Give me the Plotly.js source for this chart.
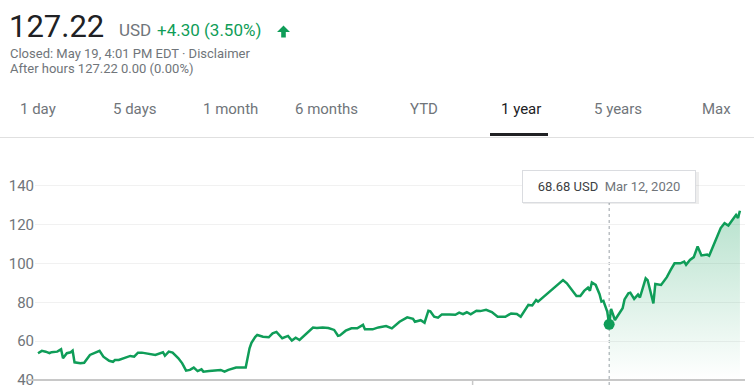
<!DOCTYPE html>
<html><head><meta charset="utf-8">
<script src="https://cdn.plot.ly/plotly-3.0.1.min.js"></script>
<style>html,body{margin:0;padding:0;background:#fff;overflow:hidden}#chart{width:754px;height:385px}</style>
</head><body><div id="chart"></div>
<script>
// ---- data ----
const dates = [
 '2019-05-20','2019-05-22','2019-05-24','2019-05-26','2019-05-27','2019-05-30',
 '2019-06-01','2019-06-02','2019-06-04','2019-06-06','2019-06-07','2019-06-08','2019-06-11','2019-06-13','2019-06-16','2019-06-18','2019-06-21','2019-06-23','2019-06-26','2019-06-28','2019-06-29',
 '2019-07-01','2019-07-04','2019-07-07','2019-07-09','2019-07-11','2019-07-13','2019-07-17','2019-07-20','2019-07-24','2019-07-25','2019-07-27','2019-07-29',
 '2019-08-01','2019-08-03','2019-08-05','2019-08-07','2019-08-09','2019-08-11','2019-08-13','2019-08-14','2019-08-17','2019-08-20','2019-08-23','2019-08-25','2019-08-27','2019-08-31',
 '2019-09-02','2019-09-05','2019-09-07','2019-09-08','2019-09-10','2019-09-11','2019-09-14','2019-09-17','2019-09-19','2019-09-21','2019-09-24','2019-09-27','2019-09-29',
 '2019-10-01','2019-10-03','2019-10-05','2019-10-08','2019-10-10','2019-10-12','2019-10-15','2019-10-18','2019-10-21','2019-10-23','2019-10-24','2019-10-27','2019-10-30',
 '2019-11-02','2019-11-05','2019-11-06','2019-11-10','2019-11-13','2019-11-17','2019-11-20','2019-11-24','2019-11-28',
 '2019-12-01','2019-12-02','2019-12-05','2019-12-07','2019-12-09','2019-12-10','2019-12-12','2019-12-14','2019-12-16','2019-12-20','2019-12-23','2019-12-25','2019-12-27','2019-12-29','2019-12-31',
 '2020-01-03','2020-01-05','2020-01-08','2020-01-11','2020-01-14','2020-01-18','2020-01-21','2020-01-24','2020-01-26','2020-01-30',
 '2020-02-01','2020-02-03','2020-02-04','2020-02-07','2020-02-09','2020-02-12','2020-02-15','2020-02-17','2020-02-19','2020-02-22','2020-02-24','2020-02-26','2020-02-28',
 '2020-03-01','2020-03-02','2020-03-03','2020-03-05','2020-03-07','2020-03-08','2020-03-09','2020-03-11','2020-03-12','2020-03-13','2020-03-15','2020-03-17','2020-03-19','2020-03-20','2020-03-22','2020-03-23','2020-03-25','2020-03-27','2020-03-28','2020-03-31',
 '2020-04-01','2020-04-04','2020-04-05','2020-04-08','2020-04-11','2020-04-13','2020-04-15','2020-04-18','2020-04-20','2020-04-21','2020-04-23','2020-04-25','2020-04-27','2020-04-29',
 '2020-05-02','2020-05-03','2020-05-05','2020-05-08','2020-05-09','2020-05-11','2020-05-13','2020-05-16','2020-05-17','2020-05-18','2020-05-19'
];
const prices = [
 53.8,55.0,54.6,53.8,54.3,54.6,
 55.8,51.2,53.8,54.3,55.1,49.1,48.6,48.9,52.9,53.8,55.0,52.0,49.9,49.4,50.3,
 50.3,51.5,52.4,52.0,54.1,54.1,53.2,52.9,54.3,52.5,54.6,54.1,
 51.2,48.6,44.8,45.2,46.4,44.6,45.5,44.3,44.6,44.8,45.2,44.3,45.2,46.4,
 46.5,46.4,56.3,59.2,62.3,63.2,62.3,62.0,64.0,64.8,61.5,62.7,60.3,
 61.8,60.6,62.3,64.9,67.0,66.8,67.1,66.8,65.8,62.8,63.0,65.4,66.6,
 66.6,68.4,66.1,66.1,67.1,67.8,66.6,70.0,72.3,
 71.5,70.0,70.8,69.5,75.7,75.4,72.6,72.1,73.8,73.8,73.6,74.7,73.9,74.9,73.8,
 75.7,75.5,76.2,75.0,72.6,72.6,74.3,74.0,72.6,78.7,
 78.4,81.2,80.4,82.9,84.7,87.3,89.5,91.5,89.8,86.0,83.3,83.3,85.9,
 87.6,86.0,90.2,89.0,84.2,80.4,80.8,75.2,68.68,76.6,70.9,74.3,77.0,81.5,84.7,85.0,81.8,84.0,82.5,92.4,
 91.5,79.5,89.5,89.0,93.0,96.7,100.1,100.1,101.0,99.4,101.9,103.3,108.8,104.2,
 104.6,104.0,109.0,116.8,118.3,120.8,119.6,123.7,125.0,123.5,127.22
];
const yTicks = [40, 60, 80, 100, 120, 140];
const tabLabels = ['1 day', '5 days', '1 month', '6 months', 'YTD', '1 year', '5 years', 'Max'];
const selectedTab = '1 year';
const hoverDate = '2020-03-12';
const hoverDateLabel = 'Mar 12, 2020';
const currency = 'USD';
const lastPrice = '127.22';
const changeText = '+4.30 (3.50%)';
const closedText = 'Closed: May 19, 4:01 PM EDT · Disclaimer';
const afterHoursText = 'After hours 127.22 0.00 (0.00%)';

// ---- layout geometry ----
const W = 754, H = 385, L = 35, R = 9, T = 170, B = 5;
const PW = W - L - R, PH = H - T - B;
const px = X => (X - L) / PW;
const py = Y => (H - B - Y) / PH;
const FONT = 'Roboto, Arial, sans-serif';
const GREEN = '#0f9d58';
const GREY = '#70757a';

const hoverIdx = dates.indexOf(hoverDate);

const traces = [
  {
    x: dates.slice(hoverIdx), y: prices.slice(hoverIdx),
    type: 'scatter', mode: 'none', fill: 'tozeroy',
    fillgradient: {type: 'vertical', start: 40, stop: 128,
      colorscale: [[0, 'rgba(15,157,88,0)'], [1, 'rgba(15,157,88,0.30)']]},
    hoverinfo: 'skip', showlegend: false
  },
  {
    x: dates, y: prices, type: 'scatter', mode: 'lines',
    line: {color: GREEN, width: 2.5}, showlegend: false
  },
  {
    x: [dates[hoverIdx]], y: [prices[hoverIdx]], type: 'scatter', mode: 'markers',
    marker: {color: GREEN, size: 11}, showlegend: false
  }
];

const ann = (X, Y, text, size, color, extra) => Object.assign({
  xref: 'paper', yref: 'paper', x: px(X), y: py(Y), text: text,
  showarrow: false, xanchor: 'left', yanchor: 'middle',
  font: {family: FONT, size: size, color: color}
}, extra || {});

const tabX = [18, 111, 201, 293, 408, 499, 592, 700];
const annotations = [
  ann(7, 26, lastPrice, 31, '#202124'),
  ann(117, 30.5, currency, 17, GREY),
  ann(155, 30.5, changeText, 17, GREEN),
  ann(8, 53, closedText, 13, GREY),
  ann(8, 69, afterHoursText, 13, GREY),
  {
    xref: 'x', yref: 'paper', x: hoverDate, y: py(186),
    text: '<span style="color:#3c4043">' + prices[hoverIdx].toFixed(2) + ' ' + currency +
          '</span>  <span style="color:#70757a">' + hoverDateLabel + '</span>',
    showarrow: false, xanchor: 'center', yanchor: 'middle', align: 'center',
    width: 158, height: 17,
    font: {family: FONT, size: 13, color: '#3c4043'},
    bgcolor: '#ffffff', bordercolor: '#dadce0', borderwidth: 1, borderpad: 7
  }
];
tabLabels.forEach((t, i) => {
  annotations.push(ann(tabX[i], 109, t, 15, t === selectedTab ? '#202124' : GREY));
});

const arrowPts = [[283.5, 25.5], [290, 32], [285.8, 32], [285.8, 37.5], [281.2, 37.5], [281.2, 32], [277, 32]];
const arrowPath = 'M ' + arrowPts.map(p => px(p[0]) + ',' + py(p[1])).join(' L ') + ' Z';

const shapes = [
  {type: 'path', xref: 'paper', yref: 'paper', path: arrowPath, fillcolor: GREEN, line: {width: 0}},
  {type: 'line', xref: 'paper', yref: 'paper', x0: px(0), x1: px(754), y0: py(137.5), y1: py(137.5),
   line: {color: '#e0e0e0', width: 1}},
  {type: 'rect', xref: 'paper', yref: 'paper', x0: px(490), x1: px(548), y0: py(136), y1: py(133),
   fillcolor: '#202124', line: {width: 0}},
  {type: 'rect', xref: 'paper', yref: 'paper', x0: px(523), x1: px(699), y0: py(204), y1: py(172),
   fillcolor: 'rgba(0,0,0,0.07)', line: {width: 0}, layer: 'above'},
  {type: 'line', xref: 'x', yref: 'paper', x0: hoverDate, x1: hoverDate, y0: py(385), y1: py(202),
   line: {color: '#9aa0a6', width: 1, dash: 'dot'}, layer: 'below'},
  {type: 'line', xref: 'paper', yref: 'paper', x0: px(26), x1: px(745), y0: 0, y1: 0,
   line: {color: '#c8c8c8', width: 2}},
  {type: 'line', xref: 'x', yref: 'paper', x0: '2020-01-01', x1: '2020-01-01', y0: 0, y1: py(386),
   line: {color: '#c8c8c8', width: 1.5}}
];

const layout = {
  width: W, height: H,
  margin: {l: L, r: R, t: T, b: B, pad: 0},
  paper_bgcolor: '#ffffff', plot_bgcolor: '#ffffff',
  font: {family: FONT},
  showlegend: false,
  xaxis: {type: 'date', range: ['2019-05-18 10:30', '2020-05-21 15:20'],
          showgrid: false, zeroline: false, showline: false, showticklabels: false, ticks: ''},
  yaxis: {range: [40, 148.2], tickvals: yTicks, showgrid: true, gridcolor: '#f1f1f1', gridwidth: 1,
          zeroline: false, showline: false, ticks: '', ticklabeloverflow: 'allow',
          tickfont: {family: FONT, size: 15, color: GREY}},
  annotations: annotations,
  shapes: shapes
};

Plotly.newPlot('chart', traces, layout, {staticPlot: true, displayModeBar: false});
</script>
</body></html>
